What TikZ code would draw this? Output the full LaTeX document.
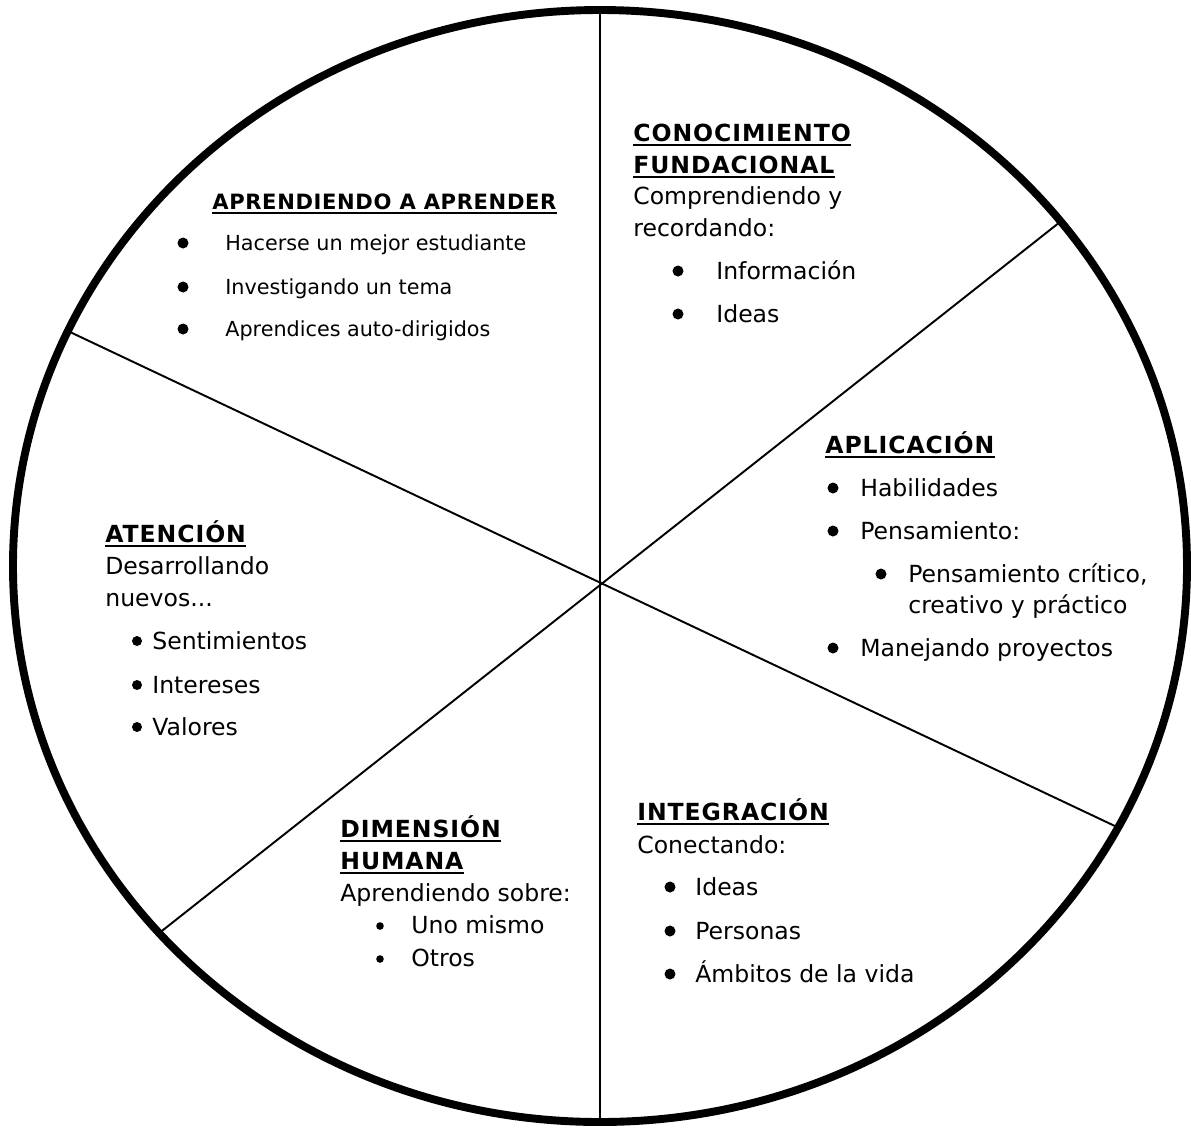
\documentclass[tikz,border=0pt]{standalone}
\usepackage{fontspec}
\setmainfont{DejaVu Sans}
\usepackage{tikz}

\tikzset{
  txt/.style={anchor=base west, inner sep=0pt, font=\fontsize{13.4}{16}\selectfont},
  hd/.style={txt, font=\fontsize{13.4}{16}\selectfont\bfseries\addfontfeature{LetterSpace=4}},
  small/.style={anchor=base west, inner sep=0pt, font=\fontsize{11.8}{14}\selectfont},
  smallhd/.style={small, font=\fontsize{12}{14}\selectfont\bfseries\addfontfeature{LetterSpace=3}},
  uline/.style={line width=1.1pt},
  spoke/.style={line width=1.1pt},
  rim/.style={line width=4.5pt}
}

\begin{document}
\begin{tikzpicture}[x=0.02cm,y=-0.02cm]

  \useasboundingbox (0,0) rectangle (1191,1127);

  % spokes
  \coordinate (o) at (600,584);
  \coordinate (t) at (600,8);
  \coordinate (b) at (600,1121);
  \coordinate (ul) at (70,332);
  \coordinate (lr) at (1117,827);
  \coordinate (ur) at (1060,222);
  \coordinate (ll) at (158,934);
  \draw[spoke] (t) -- (b);
  \draw[spoke] (ul) -- (lr);
  \draw[spoke] (ur) -- (ll);

  \draw[rim] (600,566) ellipse [x radius=587, y radius=556];

  % aprendiendo a aprender
  \node[smallhd] (aa) at (212,209) {APRENDIENDO A APRENDER};
  \draw[uline] ([yshift=-2.5pt]aa.base west) -- ([yshift=-2.5pt]aa.base east);
  \fill (183,243) circle [radius=5.5];
  \node[small] (aa1) at (225,250) {Hacerse un mejor estudiante};
  \fill (183,287) circle [radius=5.5];
  \node[small] (aa2) at (225,294) {Investigando un tema};
  \fill (183,329) circle [radius=5.5];
  \node[small] (aa3) at (225,336) {Aprendices auto-dirigidos};

  % conocimiento fundacional
  \node[hd] (cf1) at (633,141) {CONOCIMIENTO};
  \draw[uline] ([yshift=-2.5pt]cf1.base west) -- ([yshift=-2.5pt]cf1.base east);
  \node[hd] (cf2) at (633,173) {FUNDACIONAL};
  \draw[uline] ([yshift=-2.5pt]cf2.base west) -- ([yshift=-2.5pt]cf2.base east);
  \node[txt] (cf3) at (633,204) {Comprendiendo y};
  \node[txt] (cf4) at (633,236) {recordando:};
  \fill (678,271) circle [radius=5.5];
  \node[txt] (cf5) at (716,279) {Información};
  \fill (678,314) circle [radius=5.5];
  \node[txt] (cf6) at (716,322) {Ideas};

  % aplicacion
  \node[hd] (ap) at (825,453) {APLICACIÓN};
  \draw[uline] ([yshift=-2.5pt]ap.base west) -- ([yshift=-2.5pt]ap.base east);
  \fill (833,488) circle [radius=5.5];
  \node[txt] (ap1) at (860,496) {Habilidades};
  \fill (833,531) circle [radius=5.5];
  \node[txt] (ap2) at (860,539) {Pensamiento:};
  \fill (881,574) circle [radius=5.5];
  \node[txt] (ap3) at (908,582) {Pensamiento crítico,};
  \node[txt] (ap4) at (908,613) {creativo y práctico};
  \fill (833,648) circle [radius=5.5];
  \node[txt] (ap5) at (860,656) {Manejando proyectos};

  % atencion
  \node[hd] (at) at (105,542) {ATENCIÓN};
  \draw[uline] ([yshift=-2.5pt]at.base west) -- ([yshift=-2.5pt]at.base east);
  \node[txt] (at1) at (105,574) {Desarrollando};
  \node[txt] (at2) at (105,606) {nuevos...};
  \fill (137,641) circle [radius=5];
  \node[txt] (at3) at (152,649) {Sentimientos};
  \fill (137,685) circle [radius=5];
  \node[txt] (at4) at (152,693) {Intereses};
  \fill (137,727) circle [radius=5];
  \node[txt] (at5) at (152,735) {Valores};

  % dimension humana
  \node[hd] (dh1) at (340,837) {DIMENSIÓN};
  \draw[uline] ([yshift=-2.5pt]dh1.base west) -- ([yshift=-2.5pt]dh1.base east);
  \node[hd] (dh2) at (340,869) {HUMANA};
  \draw[uline] ([yshift=-2.5pt]dh2.base west) -- ([yshift=-2.5pt]dh2.base east);
  \node[txt] (dh3) at (340,901) {Aprendiendo sobre:};
  \fill (380,926) circle [radius=3.8];
  \node[txt] (dh4) at (411,933) {Uno mismo};
  \fill (380,959) circle [radius=3.8];
  \node[txt] (dh5) at (411,966) {Otros};

  % integracion
  \node[hd] (in) at (637,820) {INTEGRACIÓN};
  \draw[uline] ([yshift=-2.5pt]in.base west) -- ([yshift=-2.5pt]in.base east);
  \node[txt] (in1) at (637,853) {Conectando:};
  \fill (670,887) circle [radius=5.5];
  \node[txt] (in2) at (695,895) {Ideas};
  \fill (670,931) circle [radius=5.5];
  \node[txt] (in3) at (695,939) {Personas};
  \fill (670,974) circle [radius=5.5];
  \node[txt] (in4) at (695,982) {Ámbitos de la vida};

\end{tikzpicture}
\end{document}
